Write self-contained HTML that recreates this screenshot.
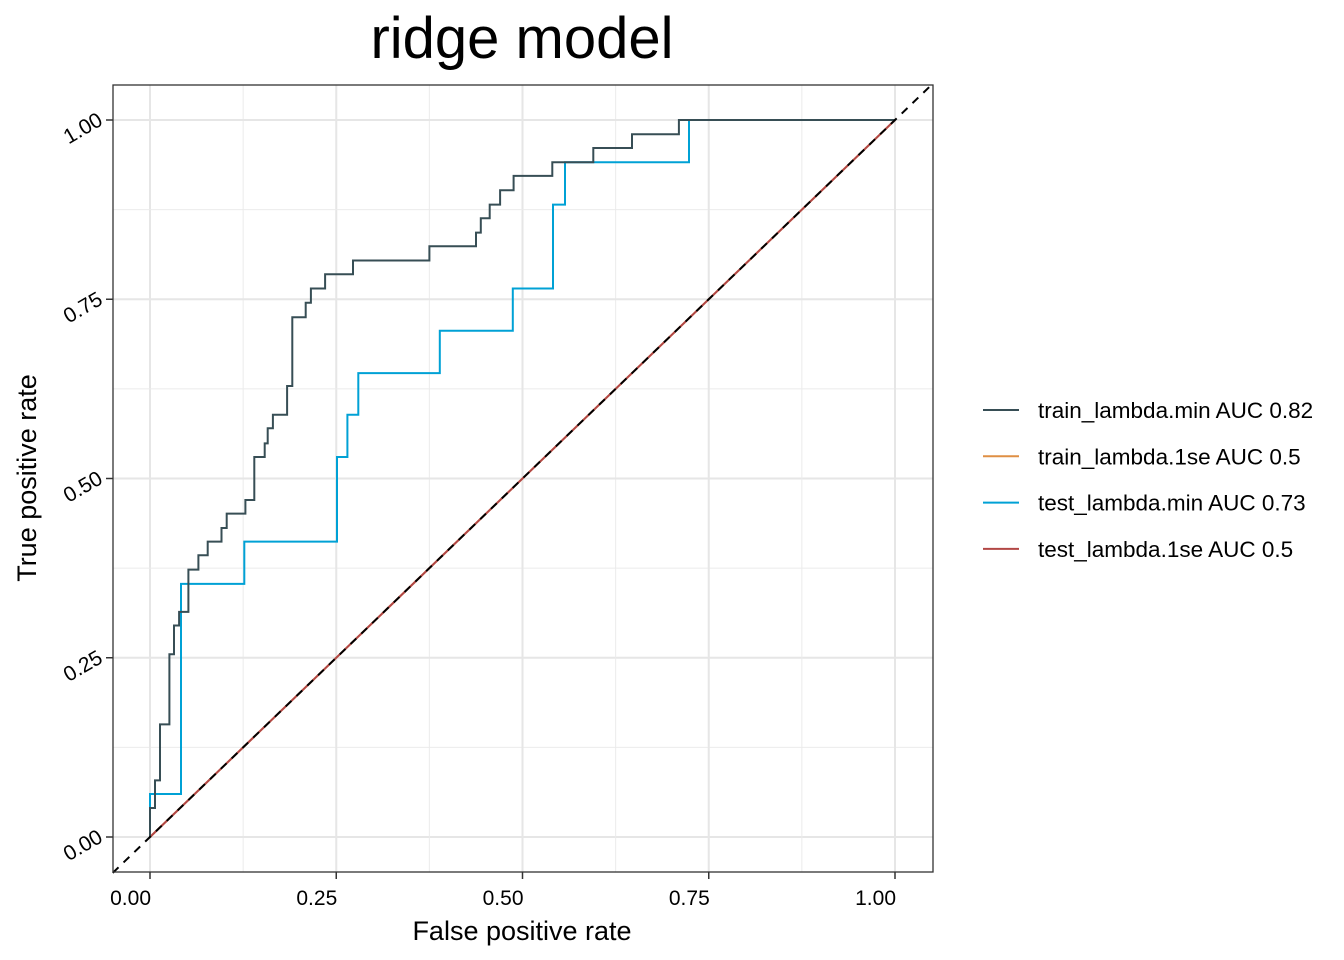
<!DOCTYPE html>
<html><head><meta charset="utf-8"><style>
body{margin:0;background:#fff;}
svg{display:block;font-family:"Liberation Sans",Arial,sans-serif;}
</style></head><body>
<svg id="chart" width="1344" height="960">
<text x="522" y="58" font-size="58" text-anchor="middle" fill="#000">ridge model</text>
<rect x="113" y="85" width="820" height="787" fill="#fff"/>
<g id="grid"></g>
<g id="series"></g>
<rect x="113" y="85" width="820" height="787" fill="none" stroke="#333" stroke-width="1.3"/>
<g id="axes"></g>
<text x="522" y="940" font-size="27" text-anchor="middle" fill="#000">False positive rate</text>
<text transform="translate(36,478) rotate(-90)" font-size="27" text-anchor="middle" fill="#000">True positive rate</text>
<g id="legend"></g>
</svg>
<script>
const trainMinFpr=[0,0,0.0067,0.0067,0.0134,0.0134,0.026,0.026,0.0322,0.0322,0.039,0.039,0.0515,0.0515,0.065,0.065,0.0774,0.0774,0.096,0.096,0.103,0.103,0.128,0.128,0.140,0.140,0.154,0.154,0.158,0.158,0.165,0.165,0.184,0.184,0.191,0.191,0.209,0.209,0.216,0.216,0.235,0.235,0.2725,0.2725,0.375,0.375,0.4376,0.4376,0.444,0.444,0.456,0.456,0.470,0.470,0.488,0.488,0.540,0.540,0.595,0.595,0.647,0.647,0.710,0.710,1];
const trainMinTpr=[0,0.0405,0.0405,0.079,0.079,0.157,0.157,0.255,0.255,0.295,0.295,0.314,0.314,0.373,0.373,0.393,0.393,0.412,0.412,0.431,0.431,0.451,0.451,0.470,0.470,0.530,0.530,0.549,0.549,0.570,0.570,0.589,0.589,0.629,0.629,0.725,0.725,0.745,0.745,0.765,0.765,0.785,0.785,0.804,0.804,0.824,0.824,0.843,0.843,0.863,0.863,0.882,0.882,0.902,0.902,0.922,0.922,0.941,0.941,0.961,0.961,0.980,0.980,1,1];
const testMinFpr=[0,0,0.0416,0.0416,0.1266,0.1266,0.251,0.251,0.265,0.265,0.2796,0.2796,0.389,0.389,0.487,0.487,0.541,0.541,0.557,0.557,0.7235,0.7235,1];
const testMinTpr=[0,0.060,0.060,0.353,0.353,0.412,0.412,0.530,0.530,0.589,0.589,0.647,0.647,0.706,0.706,0.765,0.765,0.882,0.882,0.941,0.941,1,1];
const train1seFpr=[0,1];
const train1seTpr=[0,1];
const test1seFpr=[0,1];
const test1seTpr=[0,1];
const ticks=[0,0.25,0.5,0.75,1];
const tickLabels=["0.00","0.25","0.50","0.75","1.00"];
const legendLabels=["train_lambda.min AUC 0.82","train_lambda.1se AUC 0.5","test_lambda.min AUC 0.73","test_lambda.1se AUC 0.5"];
const legendColors=["#374E55","#DF8F44","#00A1D5","#B24745"];

const NS="http://www.w3.org/2000/svg";
const sx=v=>150+v*745, sy=v=>837-v*717;
function mk(tag,attrs,parent){const e=document.createElementNS(NS,tag);for(const k in attrs)e.setAttribute(k,attrs[k]);parent.appendChild(e);return e;}
const grid=document.getElementById('grid'),series=document.getElementById('series'),axes=document.getElementById('axes'),legend=document.getElementById('legend');
for(let i=0;i<ticks.length;i++){
  if(i<ticks.length-1){const m=(ticks[i]+ticks[i+1])/2;
    const a=mk('line',{x1:sx(m),x2:sx(m),y1:85,y2:872,stroke:'#ebebeb','stroke-width':1},grid);
    
    const b=mk('line',{x1:113,x2:933,y1:sy(m),y2:sy(m),stroke:'#ebebeb','stroke-width':1},grid);
    }
  const gx=mk('line',{x1:sx(ticks[i]),x2:sx(ticks[i]),y1:85,y2:872,stroke:'#e6e6e6','stroke-width':2},grid);
  
  const gy=mk('line',{x1:113,x2:933,y1:sy(ticks[i]),y2:sy(ticks[i]),stroke:'#e6e6e6','stroke-width':2},grid);
  
  const tx=mk('line',{x1:sx(ticks[i]),x2:sx(ticks[i]),y1:872,y2:879,stroke:'#333','stroke-width':1.5},axes);
  
  const lx=mk('text',{x:sx(ticks[i])+1,y:905,'font-size':21,'text-anchor':'end',fill:'#000'},axes);
  lx.textContent=tickLabels[i];
  
  const ty=mk('line',{x1:106,x2:113,y1:sy(ticks[i]),y2:sy(ticks[i]),stroke:'#333','stroke-width':1.5},axes);
  
  const ly=mk('text',{transform:`translate(104,${sy(ticks[i])+4}) rotate(-30)`,'font-size':21,'text-anchor':'end',fill:'#000'},axes);
  ly.textContent=tickLabels[i];
  
}
function path(xs,ys,color,name){
  let d='';for(let i=0;i<xs.length;i++)d+=(i?'L':'M')+sx(xs[i]).toFixed(1)+','+sy(ys[i]).toFixed(1);
  const p=mk('path',{d:d,fill:'none',stroke:color,'stroke-width':2},series);
  
}
path(train1seFpr,train1seTpr,legendColors[1],'train-lambda-1se-line');
path(test1seFpr,test1seTpr,legendColors[3],'test-lambda-1se-line');
path(testMinFpr,testMinTpr,legendColors[2],'test-lambda-min-line');
path(trainMinFpr,trainMinTpr,legendColors[0],'train-lambda-min-line');
const ref=mk('line',{x1:sx(-0.05),y1:sy(-0.05),x2:sx(1.05),y2:sy(1.05),stroke:'#000','stroke-width':2,'stroke-dasharray':'8,7'},series);

for(let i=0;i<legendLabels.length;i++){
  const y=410+i*46.3;
  const l=mk('line',{x1:983,x2:1019,y1:y,y2:y,stroke:legendColors[i],'stroke-width':2},legend);
  
  const t=mk('text',{x:1038,y:y+8,'font-size':22.5,fill:'#000'},legend);
  t.textContent=legendLabels[i];
  
}
</script>
</body></html>
